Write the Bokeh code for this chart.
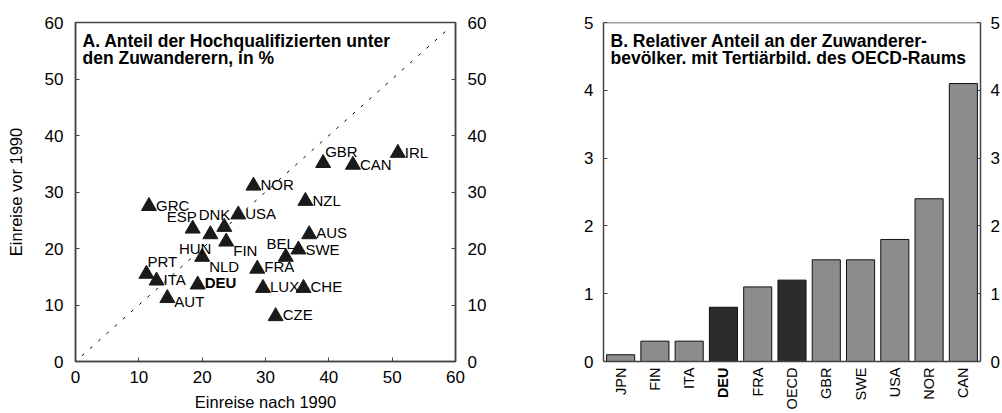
import math
from bokeh.plotting import figure
from bokeh.models import Range1d, LinearAxis, ColumnDataSource, Label, FixedTicker, Span
from bokeh.layouts import row, column
from bokeh.embed import file_html
from bokeh.resources import INLINE
from bokeh.core.properties import value

# ---------------- data ----------------
countries = ["GBR", "CAN", "IRL", "NOR", "NZL", "GRC", "USA", "ESP", "DNK", "HUN", "FIN",
             "NLD", "PRT", "ITA", "AUT", "DEU", "FRA", "BEL", "SWE", "AUS", "LUX", "CHE", "CZE"]
after_1990 = [39.1, 43.8, 50.9, 28.1, 36.3, 11.6, 25.7, 18.5, 23.5, 21.3, 23.8,
              20.0, 11.2, 12.8, 14.5, 19.3, 28.7, 33.2, 35.2, 36.9, 29.6, 36.0, 31.6]
before_1990 = [35.1, 34.8, 36.9, 31.1, 28.4, 27.5, 26.0, 23.5, 23.8, 22.5, 21.2,
               18.5, 15.5, 14.3, 11.2, 13.6, 16.4, 18.5, 19.8, 22.5, 13.0, 13.0, 8.0]

bar_cats = ["JPN", "FIN", "ITA", "DEU", "FRA", "OECD", "GBR", "SWE", "USA", "NOR", "CAN"]
bar_vals = [0.1, 0.3, 0.3, 0.8, 1.1, 1.2, 1.5, 1.5, 1.8, 2.4, 4.1]
highlight = ["DEU", "OECD"]

title_a = ["A. Anteil der Hochqualifizierten unter", "den Zuwanderern, in %"]
title_b = ["B. Relativer Anteil an der Zuwanderer-", "bevölker. mit Tertiärbild. des OECD-Raums"]

# label placement (screen px: dx, dy up, align)
label_pos = {
    "GBR": (2, 12, "left"), "CAN": (7, 0, "left"), "IRL": (7, 1, "left"),
    "NOR": (7, 1, "left"), "NZL": (7, 1, "left"), "GRC": (7, 1, "left"),
    "USA": (7, 1, "left"), "ESP": (4, 12, "right"), "DNK": (6, 13, "right"),
    "HUN": (1, -14, "right"), "FIN": (7, -9, "left"), "NLD": (7, -10, "left"),
    "PRT": (1, 12, "left"), "ITA": (7, 1, "left"), "AUT": (7, -3, "left"),
    "DEU": (7, 2, "left"), "FRA": (7, 2, "left"), "BEL": (9, 13, "right"),
    "SWE": (7, 0, "left"), "AUS": (7, 2, "left"), "LUX": (7, 2, "left"),
    "CHE": (7, 2, "left"), "CZE": (7, 2, "left"),
}

FONT = "Liberation Sans"
AX = "#444444"
TICK = "17px"


def style_axis(ax, ticks):
    ax.ticker = FixedTicker(ticks=ticks)
    ax.axis_line_color = AX
    ax.axis_line_width = 1.5
    ax.major_tick_line_color = AX
    ax.major_tick_in = 4
    ax.major_tick_out = 0
    ax.minor_tick_line_color = None
    ax.major_label_text_font = FONT
    ax.major_label_text_font_size = TICK
    ax.major_label_text_color = "black"
    ax.axis_label_text_font = FONT
    ax.axis_label_text_font_size = "16.5px"
    ax.axis_label_text_font_style = "normal"
    ax.axis_label_text_color = "black"


# ---------------- panel A ----------------
pa = figure(width=540, height=413, output_backend="svg", toolbar_location=None,
            x_range=Range1d(0, 60), y_range=Range1d(0, 60),
            min_border_left=75, min_border_right=85, min_border_top=22, min_border_bottom=52)
pa.grid.visible = False
pa.outline_line_color = AX
pa.outline_line_width = 1.5
pa.background_fill_color = "white"
pa.border_fill_color = "white"

style_axis(pa.xaxis[0], list(range(0, 61, 10)))
style_axis(pa.yaxis[0], list(range(0, 61, 10)))
pa.xaxis[0].axis_label = "Einreise nach 1990"
pa.yaxis[0].axis_label = "Einreise vor 1990"
pa.xaxis[0].major_label_standoff = 9
pa.xaxis[0].axis_label_standoff = 7
pa.yaxis[0].major_label_standoff = 12
pa.yaxis[0].axis_label_standoff = 17
ra = LinearAxis()
style_axis(ra, list(range(0, 61, 10)))
ra.major_label_standoff = 12
pa.add_layout(ra, "right")

diag = [1, 59]
pa.line(diag, diag, line_color="black", line_width=1, line_dash="3 8")

src = ColumnDataSource(dict(
    x=after_1990, y=before_1990, name=countries,
    dx=[label_pos[c][0] for c in countries],
    dy=[-label_pos[c][1] for c in countries],
    align=[label_pos[c][2] for c in countries],
    fstyle=["bold" if c == "DEU" else "normal" for c in countries],
))
pa.scatter("x", "y", source=src, marker="triangle", size=15,
           fill_color="#1a1a1a", line_color="#1a1a1a")
pa.text("x", "y", text="name", source=src, x_offset="dx", y_offset="dy",
        text_align="align", text_baseline="middle", text_font=value(FONT),
        text_font_size="15px", text_font_style="fstyle", text_color="black")

for i, t in enumerate(title_a):
    pa.add_layout(Label(x=0, y=60, x_offset=7, y_offset=-18 - 17.4 * i, text=t,
                        text_font=FONT, text_font_size="17.5px", text_font_style="bold",
                        text_baseline="alphabetic", text_color="black"))

# ---------------- panel B ----------------
# frame extended below zero so that the rotated category labels can be drawn as text
ymin_b = -52 / (339 / 5)
pb = figure(width=462, height=413, output_backend="svg", toolbar_location=None,
            x_axis_location=None,
            x_range=Range1d(0, len(bar_cats)), y_range=Range1d(ymin_b, 5),
            min_border_left=63, min_border_right=22, min_border_top=22, min_border_bottom=0)
pb.grid.visible = False
pb.outline_line_color = None
pb.background_fill_color = "white"
pb.border_fill_color = "white"
style_axis(pb.yaxis[0], [0, 1, 2, 3, 4, 5])
pb.yaxis[0].major_label_standoff = 10
pb.yaxis[0].bounds = (0, 5)
rb = LinearAxis(bounds=(0, 5))
style_axis(rb, [0, 1, 2, 3, 4, 5])
rb.major_label_standoff = 10
pb.add_layout(rb, "right")
pb.add_layout(Span(location=5, dimension="width", line_color=AX, line_width=1.5))

bsrc = ColumnDataSource(dict(
    x=[i + 0.5 for i in range(len(bar_cats))], top=bar_vals, cat=bar_cats,
    color=["#2b2b2b" if c in highlight else "#8c8c8c" for c in bar_cats],
    fstyle=["bold" if c == "DEU" else "normal" for c in bar_cats],
    zero=[0] * len(bar_cats),
))
pb.vbar(x="x", top="top", width=0.82, bottom=0, source=bsrc,
        fill_color="color", line_color="#111111", line_width=1)
pb.add_layout(Span(location=0, dimension="width", line_color=AX, line_width=1.5))
pb.text("x", "zero", text="cat", source=bsrc, y_offset=6, angle=math.pi / 2,
        text_align="right", text_baseline="middle", text_font=value(FONT),
        text_font_size="14.5px", text_font_style="fstyle", text_color="black")

for i, t in enumerate(title_b):
    pb.add_layout(Label(x=0, y=5, x_offset=7, y_offset=-18 - 17.4 * i, text=t,
                        text_font=FONT, text_font_size="17.5px", text_font_style="bold",
                        text_baseline="alphabetic", text_color="black"))

layout = row(column(pa), column(pb))
open("out.html", "w").write(file_html(layout, INLINE))
